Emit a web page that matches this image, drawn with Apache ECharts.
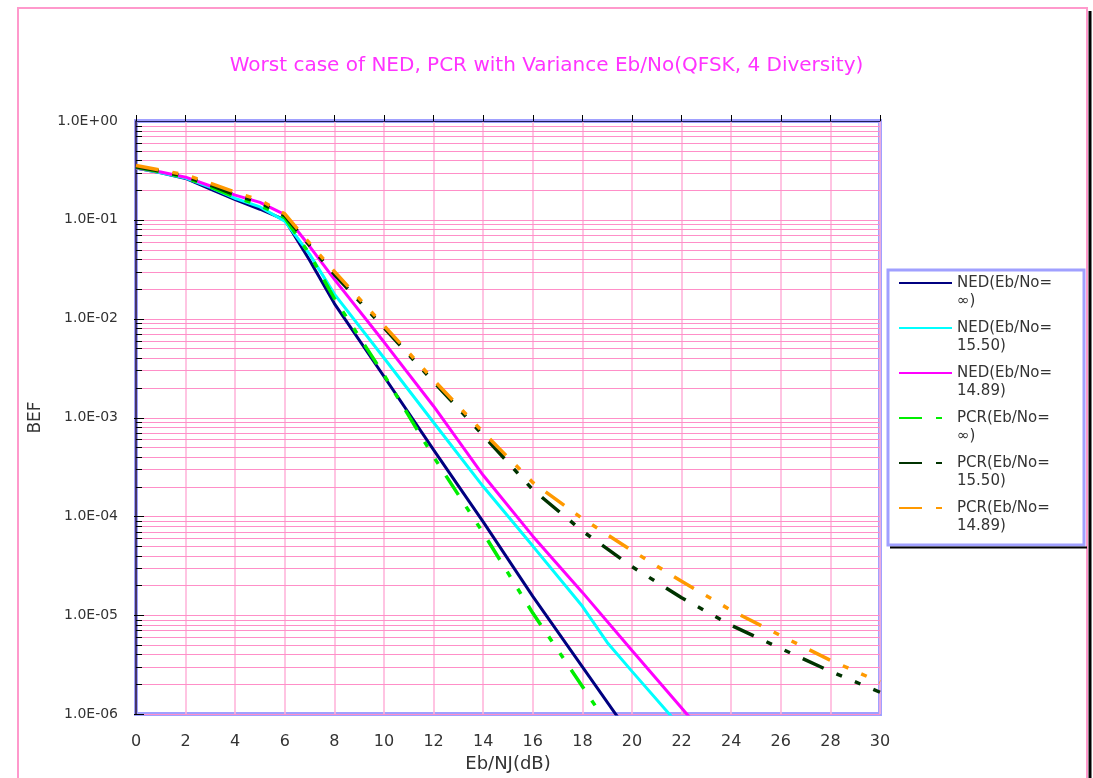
<!DOCTYPE html>
<html>
<head>
<meta charset="utf-8">
<script src="https://cdn.jsdelivr.net/npm/echarts@6/dist/echarts.min.js"></script>
<style>html,body{margin:0;padding:0;background:#fff}#c{width:1093px;height:778px}</style>
</head>
<body>
<div id="c"></div>
<script>
// ---- data ----
const ebnj = [0, 1, 2, 3, 4, 5, 6, 7, 8, 10, 12, 14, 16, 18, 19, 20, 22, 24, 26, 28, 30];
const xTicks = [0, 2, 4, 6, 8, 10, 12, 14, 16, 18, 20, 22, 24, 26, 28, 30];
const seriesNames = ['NED(Eb/No=∞)', 'NED(Eb/No=15.50)', 'NED(Eb/No=14.89)', 'PCR(Eb/No=∞)', 'PCR(Eb/No=15.50)', 'PCR(Eb/No=14.89)'];
const nedInf  = [0.335, 0.300, 0.262, 0.205, 0.160, 0.128, 0.100, 0.039, 0.0142, 0.0026, 4.7e-4, 8.8e-5, 1.55e-5, 3.0e-6, null, 5.8e-7, null, null, null, null, null];
const ned1550 = [0.335, 0.300, 0.265, 0.213, 0.165, 0.135, 0.097, 0.045, 0.0177, 0.0040, 8.9e-4, 2.0e-4, 5.0e-5, 1.23e-5, 5.3e-6, 2.7e-6, 7.2e-7, null, null, null, null];
const ned1489 = [0.335, 0.305, 0.270, 0.220, 0.178, 0.150, 0.113, 0.054, 0.025, 0.0058, 0.0013, 2.6e-4, 6.3e-5, 1.7e-5, null, 4.4e-6, 1.15e-6, 3.0e-7, null, null, null];
const pcrInf  = [0.340, 0.305, 0.268, 0.215, 0.170, 0.140, 0.105, 0.045, 0.016, 0.0027, 4.0e-4, 6.8e-5, 1.05e-5, 1.9e-6, 8.0e-7, null, null, null, null, null, null];
const pcr1550 = [0.345, 0.310, 0.275, 0.225, 0.178, 0.150, 0.110, 0.055, 0.028, 0.0081, 0.0023, 6.6e-4, 1.86e-4, 7.1e-5, null, 3.1e-5, 1.5e-5, 7.9e-6, 4.6e-6, 2.7e-6, 1.66e-6];
const pcr1489 = [0.355, 0.318, 0.285, 0.235, 0.190, 0.158, 0.115, 0.058, 0.030, 0.0085, 0.0024, 7.1e-4, 2.2e-4, 9.5e-5, null, 4.5e-5, 2.2e-5, 1.12e-5, 6.2e-6, 3.5e-6, 2.1e-6];
const yDecades = [-6, -5, -4, -3, -2, -1, 0];

// ---- build ----
function pairs(ys) {
  const out = [];
  ys.forEach((v, i) => { if (v !== null) out.push([ebnj[i], v]); });
  return out;
}
// horizontal grid lines at 1..9 x 10^k (log-spaced minor + decade lines)
const hGridVals = [];
for (let k = yDecades[0]; k < 0; k++) for (let m = 1; m <= 9; m++) hGridVals.push([0, m * Math.pow(10, k), m === 1 ? 1 : 0]);

function fmtY(v) {
  const e = Math.round(Math.log10(v));
  return '1.0E' + (e < 0 ? '-' : '+') + String(Math.abs(e)).padStart(2, '0');
}

const dashPat = [23, 14, 6, 14, 6, 14];
const styles = [
  { color: '#000080', width: 3, type: 'solid' },
  { color: '#00ffff', width: 3, type: 'solid' },
  { color: '#ff00ff', width: 3, type: 'solid' },
  { color: '#00ee00', width: 3.5, type: dashPat },
  { color: '#003300', width: 3.5, type: dashPat },
  { color: '#ff9900', width: 3.5, type: dashPat }
];
const allData = [nedInf, ned1550, ned1489, pcrInf, pcr1550, pcr1489];

const FONT = 'DejaVu Sans';
const lineSeries = allData.map((d, i) => ({
  name: seriesNames[i],
  type: 'line',
  xAxisIndex: 0,
  yAxisIndex: 0,
  data: pairs(d),
  showSymbol: false,
  symbol: 'none',
  z: 5,
  clip: true,
  lineStyle: { color: styles[i].color, width: styles[i].width, type: styles[i].type },
  itemStyle: { color: styles[i].color }
}));

const gridSeries = {
  type: 'custom',
  silent: true,
  z: 1,
  data: hGridVals,
  encode: { x: 0, y: 1 },
  renderItem: function (params, api) {
    const cs = params.coordSys;
    const p = api.coord([0, api.value(1)]);
    const major = api.value(2) === 1;
    const y = Math.round(p[1]) + 0.5;
    return {
      type: 'group',
      children: [
        { type: 'line', shape: { x1: cs.x, y1: y, x2: cs.x + cs.width, y2: y }, style: { stroke: '#ff8fc8', lineWidth: 1 } },
        { type: 'line', shape: { x1: cs.x - (major ? 2 : 0), y1: y, x2: cs.x + (major ? 8 : 6), y2: y }, style: { stroke: '#000', lineWidth: 1 } }
      ]
    };
  }
};

const chart = echarts.init(document.getElementById('c'), null, { renderer: 'canvas' });
chart.setOption({
  animation: false,
  backgroundColor: '#fff',
  title: {
    text: 'Worst case of NED, PCR with Variance Eb/No(QFSK, 4 Diversity)',
    left: 'center',
    top: 51,
    textStyle: { color: '#ff33ff', fontFamily: FONT, fontSize: 20, fontWeight: 'normal' }
  },
  grid: {
    left: 136, right: 213, top: 121, bottom: 61,
    show: true, borderColor: '#a0a0ff', borderWidth: 4, backgroundColor: '#fff'
  },
  legend: {
    data: seriesNames,
    orient: 'vertical',
    left: 898,
    top: 256,
    padding: 0,
    itemWidth: 53,
    itemHeight: 14,
    itemGap: -9,
    z: 10,
    itemStyle: { opacity: 0 },
    formatter: name => '\n' + name.replace('=', '=\n'),
    textStyle: { fontFamily: FONT, fontSize: 15, color: '#333', lineHeight: 18 }
  },
  xAxis: [
    {
      type: 'value', position: 'bottom', min: 0, max: 30, interval: 2,
      name: 'Eb/NJ(dB)', nameLocation: 'middle', nameGap: 41,
      nameTextStyle: { fontFamily: FONT, fontSize: 18, color: '#333' },
      axisLine: { show: false }, axisTick: { show: false },
      axisLabel: { margin: 20, fontFamily: FONT, fontSize: 16, color: '#333',
        formatter: v => (xTicks.indexOf(v) >= 0 ? String(v) : '') },
      splitLine: { show: true, lineStyle: { color: '#ffb0d8', width: 1.5 } }
    },
    {
      type: 'value', position: 'top', min: 0, max: 30, interval: 2,
      axisLine: { show: true, lineStyle: { color: '#20205a', width: 1 } },
      axisTick: { show: true, inside: false, length: 6, lineStyle: { color: '#000' } },
      axisLabel: { show: false },
      splitLine: { show: false }
    }
  ],
  yAxis: {
    type: 'log', logBase: 10, min: Math.pow(10, yDecades[0]), max: Math.pow(10, yDecades[yDecades.length - 1]),
    name: 'BEF', nameLocation: 'middle', nameGap: 92,
    nameTextStyle: { fontFamily: FONT, fontSize: 17, color: '#333' },
    axisLine: { show: true, lineStyle: { color: '#101040', width: 1.5 } },
    axisTick: { show: false },
    axisLabel: { margin: 18, fontFamily: FONT, fontSize: 14, color: '#333', formatter: fmtY },
    splitLine: { show: false },
    minorTick: { show: false }, minorSplitLine: { show: false }
  },
  graphic: [
    { type: 'rect', z: 0, silent: true, shape: { x: 18, y: 8, width: 1069, height: 800 }, style: { fill: 'none', stroke: '#ff99cc', lineWidth: 2 } },
    { type: 'line', z: 0, silent: true, shape: { x1: 1090, y1: 11, x2: 1090, y2: 778 }, style: { stroke: '#000', lineWidth: 3 } },
    { type: 'rect', z: 6, silent: true, shape: { x: 888, y: 270, width: 196, height: 275 }, style: { fill: '#fff', stroke: '#a0a0ff', lineWidth: 3 } },
    { type: 'line', z: 6, silent: true, shape: { x1: 890, y1: 547.5, x2: 1087, y2: 547.5 }, style: { stroke: '#000', lineWidth: 2 } }
  ],
  series: [gridSeries].concat(lineSeries)
});
</script>
</body>
</html>
